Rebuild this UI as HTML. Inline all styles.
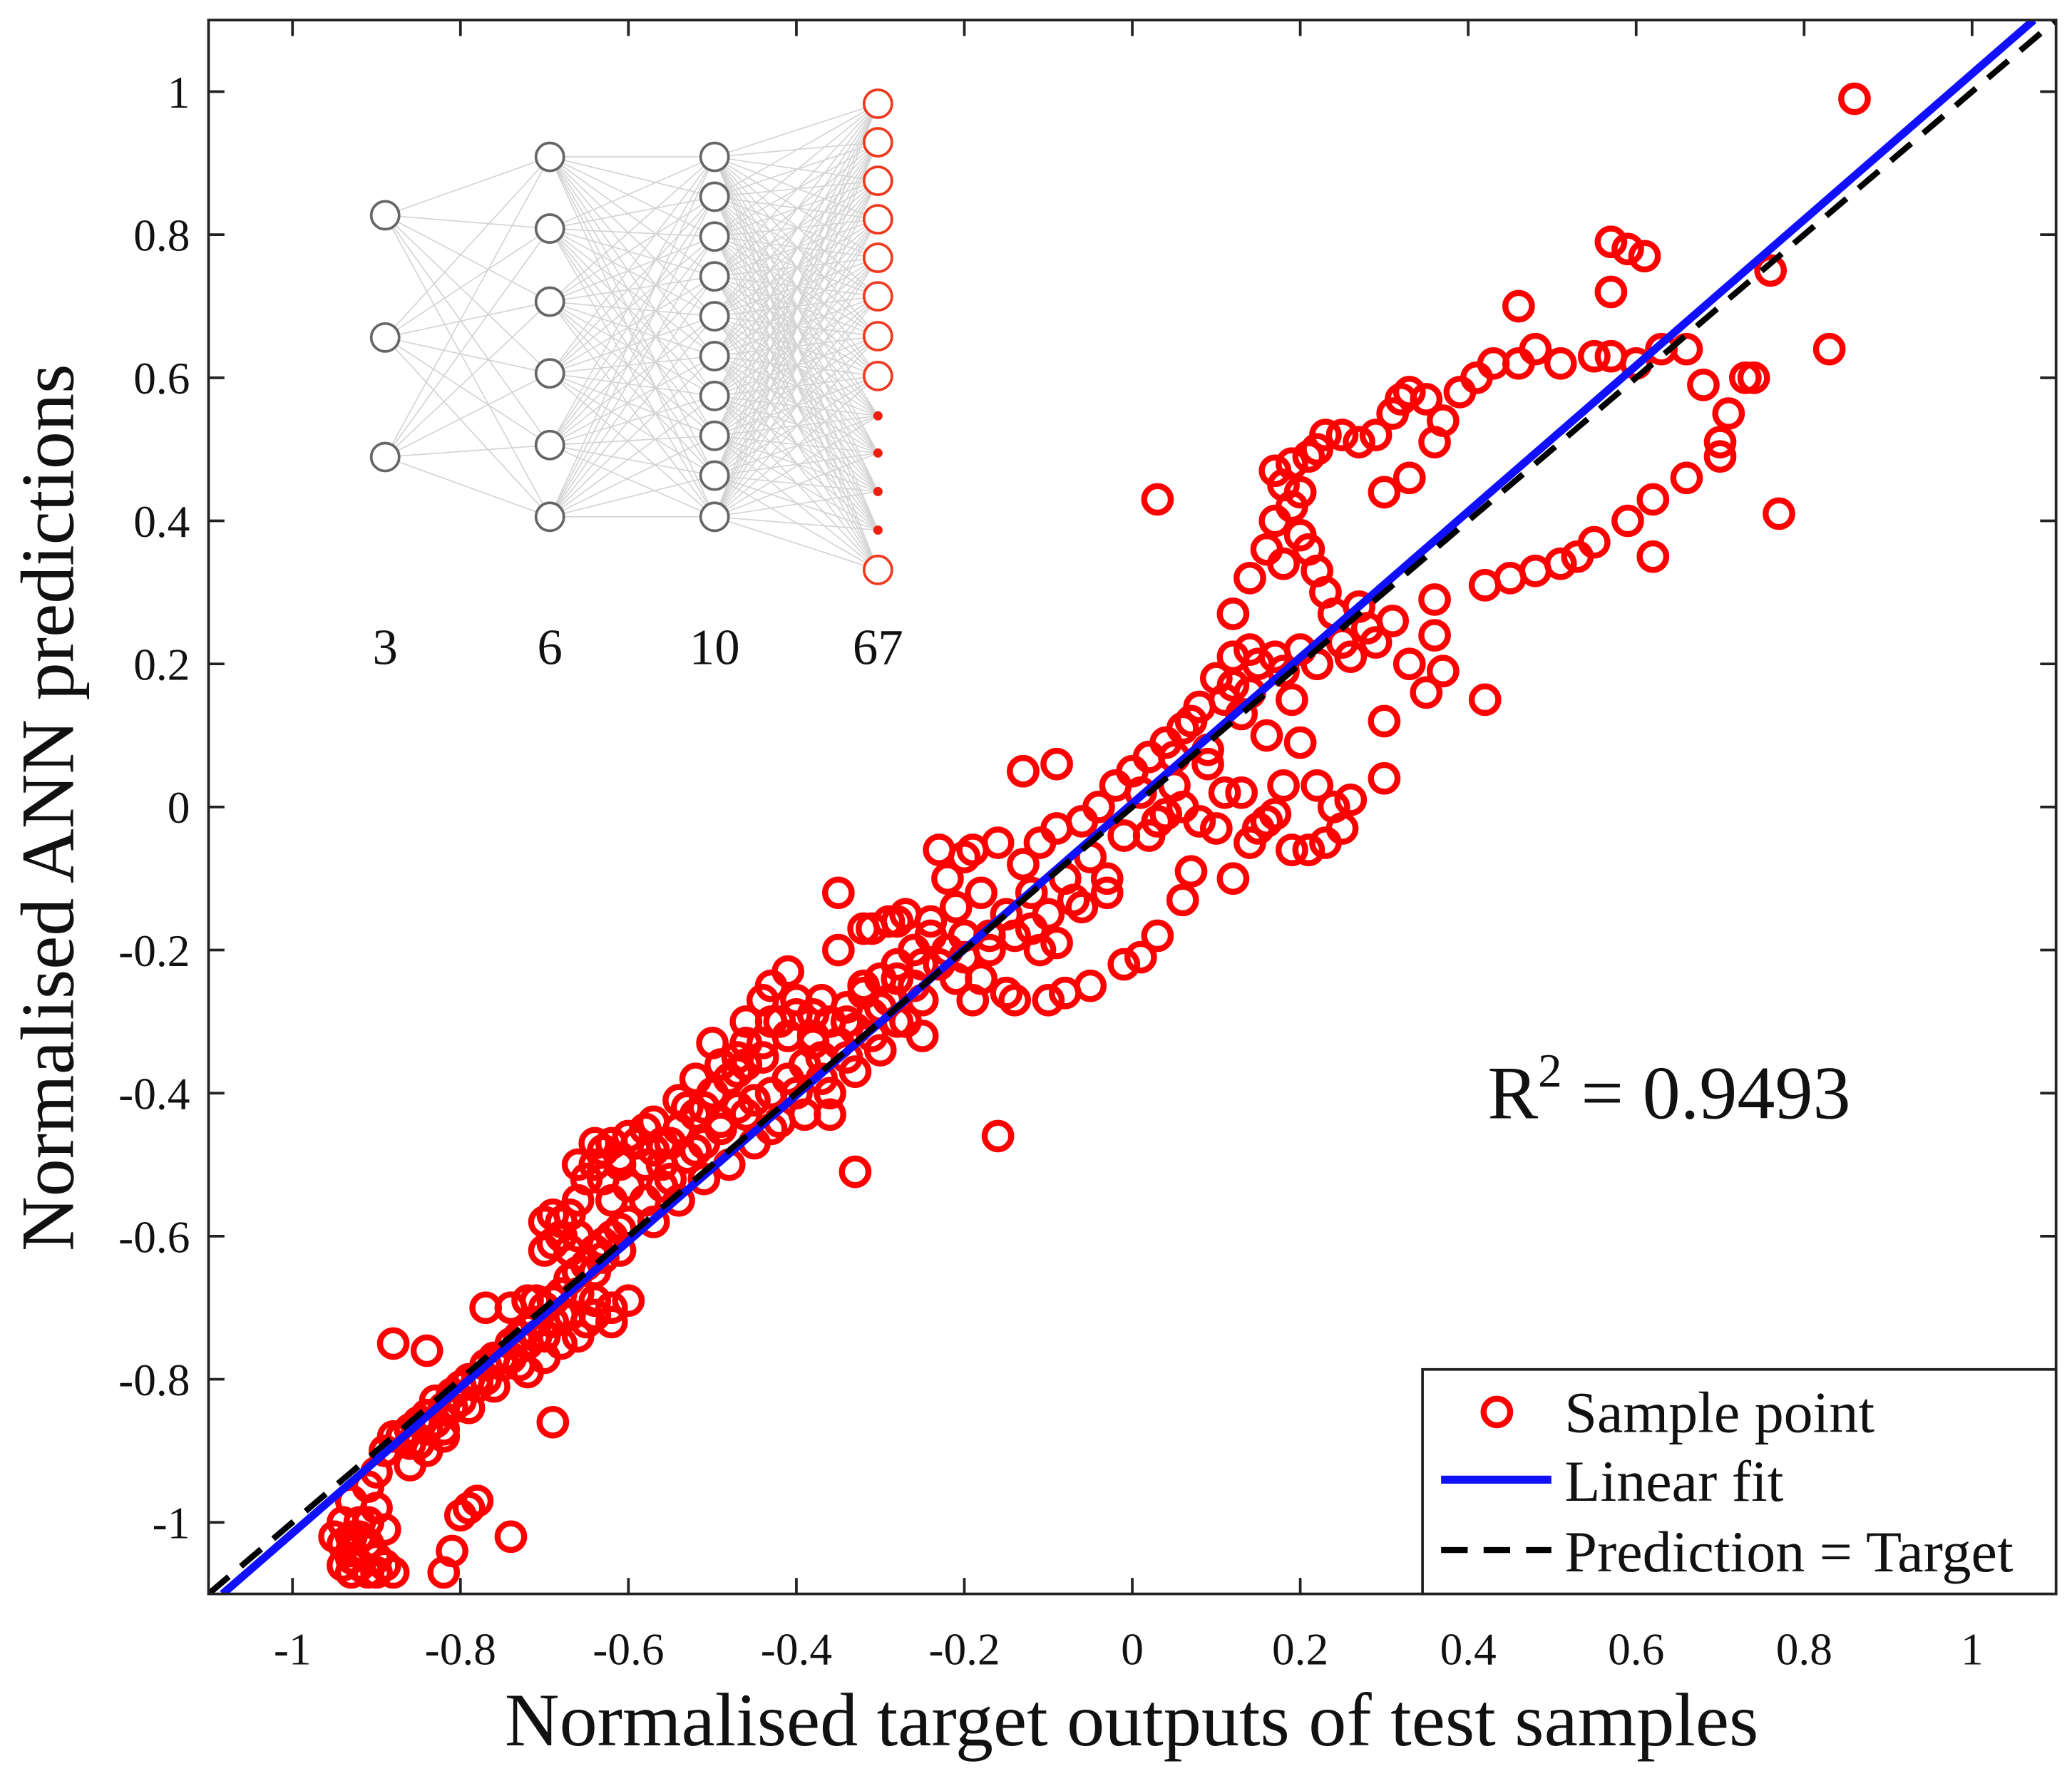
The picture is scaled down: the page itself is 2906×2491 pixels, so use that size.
<!DOCTYPE html>
<html><head><meta charset="utf-8"><style>
html,body{margin:0;padding:0;background:#fff}
svg{display:block}
text{font-family:"Liberation Serif","DejaVu Serif",serif;fill:#111}
</style></head><body>
<svg id="chart" width="2906" height="2491" viewBox="0 0 1560 1337" xmlns="http://www.w3.org/2000/svg">
<rect x="0" y="0" width="1560" height="1337" fill="#fff"/>
<g id="inset"></g>
<g id="points"></g>
<g id="lines"></g>
<g id="axes"></g>
<text x="1120" y="842" font-size="57">R<tspan dy="-24" font-size="36">2</tspan><tspan dy="24"> = 0.9493</tspan></text>
<text x="852" y="1314" font-size="57" text-anchor="middle">Normalised target outputs of test samples</text>
<text transform="translate(55,608) rotate(-90)" font-size="57" text-anchor="middle">Normalised ANN predictions</text>
<g>
<rect x="1071" y="1031" width="477" height="169" fill="#fff" stroke="#222" stroke-width="2"/>
<circle cx="1127" cy="1063" r="10" fill="none" stroke="#f00" stroke-width="4.5"/>
<text x="1178" y="1078" font-size="44">Sample point</text>
<line x1="1085" y1="1114" x2="1168" y2="1114" stroke="#1010ff" stroke-width="6"/>
<text x="1178" y="1130" font-size="44">Linear fit</text>
<line x1="1085" y1="1167" x2="1168" y2="1167" stroke="#000" stroke-width="4.5" stroke-dasharray="20,12"/>
<text x="1178" y="1183" font-size="44">Prediction = Target</text>
</g>
</svg>
<script>
const xTicks = [-1,-0.8,-0.6,-0.4,-0.2,0,0.2,0.4,0.6,0.8,1];
const xTickLabels = ["-1","-0.8","-0.6","-0.4","-0.2","0","0.2","0.4","0.6","0.8","1"];
const yTicks = [-1,-0.8,-0.6,-0.4,-0.2,0,0.2,0.4,0.6,0.8,1];
const yTickLabels = ["-1","-0.8","-0.6","-0.4","-0.2","0","0.2","0.4","0.6","0.8","1"];
const fitSlope = 1.02;
const fitIntercept = 0.005;
const targets = [
-0.94,-0.93,-0.92,-0.90,-0.89,-0.88,-0.92,-0.93,-0.91,-0.90,-0.89,-0.88,-0.89,-0.91,-0.82,-0.81,-0.79,-0.78,-0.80,-0.74,-0.88,-0.84,-0.69,-0.94,-0.93,
-0.87,-0.86,-0.85,-0.84,-0.83,-0.82,-0.81,-0.80,-0.79,-0.78,-0.77,-0.76,-0.75,-0.74,-0.73,-0.72,-0.71,-0.70,-0.69,-0.68,-0.67,-0.66,-0.65,-0.64,-0.63,-0.62,-0.61,-0.60,
-0.85,-0.82,-0.79,-0.76,-0.73,-0.70,-0.67,-0.64,-0.62,-0.60,-0.77,-0.74,-0.71,-0.68,-0.65,
-0.68,-0.67,-0.66,-0.65,-0.63,-0.62,-0.64,-0.66,-0.60,-0.61,-0.59,-0.58,-0.57,-0.69,-0.70,-0.74,-0.72,
-0.58,-0.56,-0.55,-0.54,-0.53,-0.52,-0.51,-0.50,-0.49,-0.48,-0.47,-0.46,-0.45,-0.44,-0.43,-0.42,-0.41,-0.40,-0.39,-0.38,-0.37,-0.36,-0.35,-0.34,-0.33,-0.32,-0.31,-0.30,
-0.57,-0.54,-0.51,-0.48,-0.45,-0.42,-0.39,-0.36,-0.33,-0.30,-0.50,-0.46,-0.43,-0.41,-0.38,-0.35,-0.32,-0.29,-0.56,-0.53,-0.44,-0.47,
-0.35,-0.33,-0.16,-0.36,-0.31,-0.28,
-0.29,-0.28,-0.27,-0.26,-0.25,-0.24,-0.23,-0.22,-0.21,-0.20,-0.19,-0.18,-0.17,-0.16,-0.15,-0.14,-0.13,-0.12,-0.11,-0.10,-0.09,-0.08,-0.07,-0.06,-0.05,-0.04,-0.03,-0.02,-0.01,0.00,
-0.27,-0.24,-0.21,-0.18,-0.15,-0.12,-0.09,-0.06,-0.03,-0.20,-0.17,-0.14,-0.11,-0.10,-0.08,-0.05,-0.01,0.01,0.03,0.06,-0.13,0.05,-0.19,-0.23,
0.01,0.02,0.03,0.04,0.05,0.06,0.07,0.08,0.09,0.10,0.11,0.12,0.13,0.14,0.15,0.16,0.17,0.18,0.19,0.20,0.08,0.10,0.12,0.14,0.16,0.18,0.20,0.22,0.24,0.26,0.09,0.11,0.13,0.15,0.17,0.19,0.21,0.23,0.25,0.02,0.04,0.06,0.07,
0.12,0.14,0.16,0.17,0.17,0.18,0.19,0.19,0.20,0.21,0.22,0.23,0.25,0.27,0.29,0.31,0.32,0.33,0.35,0.37,0.39,0.41,0.43,0.46,0.48,0.51,0.55,0.57,0.60,0.63,0.66,0.36,0.33,0.30,0.20,0.21,0.22,0.18,0.14,0.12,0.23,
0.57,0.59,0.61,0.46,0.57,0.68,0.70,0.70,0.71,0.73,0.74,0.76,0.83,0.77,0.86,0.62,0.66,0.62,0.59,0.55,0.51,0.48,0.42,0.45,0.53,0.03,
0.30,0.30,0.33,0.35,0.37,0.36,0.36,0.42,0.31,0.28,0.25,0.22,0.24,0.26,0.27,0.29,-0.13,-0.09,
-0.95,-0.94,-0.93,-0.92,-0.91,-0.90,-0.93,-0.91,-0.90,-0.86,-0.84,-0.83,-0.81,-0.80,-0.78,-0.77,-0.75,-0.74,-0.72,-0.71,-0.69,-0.68,-0.66,-0.64,-0.63,-0.61,
-0.70,-0.69,-0.68,-0.67,-0.66,-0.64,-0.63,-0.62,-0.61,-0.60,-0.58,-0.57,-0.56,-0.55,-0.54,-0.52,-0.51,-0.49,-0.47,-0.46,-0.44,-0.43,-0.41,-0.40,-0.38,-0.37,-0.34,-0.32,-0.30,-0.28,-0.26,-0.25,-0.22,-0.20,
-0.52,-0.49,-0.46,-0.43,-0.40,-0.37,-0.34,-0.31,-0.28,-0.25,-0.72,-0.70,-0.66,-0.64,-0.62,-0.86,-0.84,-0.82
];
const predictions = [
-1.03,-1.05,-1.06,-1.07,-1.06,-1.07,-1.00,-0.97,-0.95,-0.93,-0.90,-0.88,-1.01,-1.03,-1.07,-1.04,-0.98,-0.97,-0.99,-1.02,-0.75,-0.76,-0.86,-1.00,-1.02,
-0.88,-0.87,-0.86,-0.85,-0.83,-0.84,-0.82,-0.81,-0.80,-0.80,-0.78,-0.77,-0.77,-0.75,-0.74,-0.73,-0.72,-0.70,-0.69,-0.68,-0.66,-0.65,-0.64,-0.62,-0.61,-0.60,-0.59,-0.58,
-0.89,-0.87,-0.84,-0.81,-0.78,-0.74,-0.71,-0.69,-0.70,-0.69,-0.70,-0.70,-0.69,-0.75,-0.72,
-0.58,-0.57,-0.55,-0.52,-0.48,-0.47,-0.50,-0.60,-0.46,-0.49,-0.47,-0.45,-0.44,-0.61,-0.62,-0.70,-0.69,
-0.55,-0.50,-0.52,-0.45,-0.49,-0.43,-0.47,-0.40,-0.45,-0.38,-0.42,-0.36,-0.41,-0.33,-0.40,-0.30,-0.38,-0.27,-0.36,-0.29,-0.35,-0.30,-0.33,-0.28,-0.31,-0.25,-0.29,-0.24,
-0.58,-0.55,-0.52,-0.50,-0.47,-0.44,-0.43,-0.40,-0.37,-0.34,-0.33,-0.30,-0.25,-0.23,-0.32,-0.20,-0.17,-0.16,-0.47,-0.42,-0.27,-0.35,
-0.12,-0.51,-0.46,-0.43,-0.17,-0.16,
-0.27,-0.22,-0.30,-0.20,-0.32,-0.18,-0.22,-0.10,-0.24,-0.07,-0.27,-0.12,-0.20,-0.05,-0.15,-0.18,-0.08,-0.12,-0.05,-0.15,-0.03,-0.10,-0.13,-0.02,-0.07,0.00,-0.10,0.03,-0.04,0.05,
-0.15,-0.16,-0.14,-0.24,-0.26,-0.17,-0.19,-0.14,-0.12,-0.21,-0.18,-0.27,-0.20,-0.27,-0.26,-0.25,-0.22,-0.21,-0.18,-0.13,0.05,0.07,-0.06,-0.06,
0.02,0.07,-0.02,0.09,0.03,0.11,0.12,0.14,0.08,0.18,0.15,0.17,0.13,0.16,0.20,0.10,0.21,0.19,0.15,0.22,-0.02,-0.03,-0.10,-0.05,-0.02,0.03,0.09,0.03,0.00,0.01,0.06,0.02,0.02,-0.03,-0.01,-0.06,-0.06,-0.05,-0.03,-0.04,-0.01,0.00,-0.09,
0.27,0.32,0.36,0.40,0.47,0.45,0.42,0.48,0.44,0.49,0.50,0.52,0.52,0.51,0.52,0.55,0.57,0.58,0.57,0.54,0.58,0.60,0.62,0.62,0.64,0.62,0.63,0.63,0.62,0.64,0.64,0.51,0.46,0.44,0.38,0.36,0.33,0.34,0.22,0.21,0.30,
0.79,0.78,0.77,0.70,0.72,0.59,0.51,0.49,0.55,0.60,0.60,0.75,0.64,0.41,0.99,0.35,0.46,0.43,0.40,0.37,0.34,0.33,0.31,0.32,0.35,0.43,
0.04,0.12,0.20,0.16,0.19,0.24,0.29,0.15,0.26,0.25,0.23,0.20,0.27,0.21,0.28,0.23,0.05,0.06,
-1.02,-1.06,-1.04,-1.02,-1.00,-0.98,-1.07,-1.07,-1.05,-0.89,-0.87,-0.86,-0.84,-0.83,-0.81,-0.80,-0.78,-0.77,-0.75,-0.74,-0.72,-0.71,-0.68,-0.65,-0.63,-0.62,
-0.58,-0.57,-0.60,-0.62,-0.50,-0.47,-0.52,-0.55,-0.50,-0.53,-0.50,-0.48,-0.53,-0.47,-0.41,-0.38,-0.42,-0.36,-0.37,-0.33,-0.35,-0.30,-0.32,-0.29,-0.33,-0.27,-0.30,-0.26,-0.28,-0.24,-0.25,-0.22,-0.20,-0.18,
-0.48,-0.44,-0.43,-0.45,-0.40,-0.38,-0.35,-0.32,-0.30,-0.27,-0.79,-0.77,-0.74,-0.71,-0.72,-0.92,-0.90,-0.88
];
const layerSizes = [3,6,10,67];
const layerLabels = ["3","6","10","67"];

const NS = "http://www.w3.org/2000/svg";
const X0 = 157, X1 = 1548, Y0 = 15, Y1 = 1200;
const xMin = -1.1, xMax = 1.1, yMin = -1.1, yMax = 1.1;
function sx(v){ return X0 + (v - xMin) / (xMax - xMin) * (X1 - X0); }
function sy(v){ return Y1 - (v - yMin) / (yMax - yMin) * (Y1 - Y0); }
function mk(tag, attrs, parent){ const e = document.createElementNS(NS, tag); for (const k in attrs) e.setAttribute(k, attrs[k]); parent.appendChild(e); return e; }

// inset network
const inset = document.getElementById('inset');
const layerX = [290, 414, 538, 661];
const layerNodes = [
  [162, 254, 344],
  [118, 172, 227, 281, 335, 389],
  [118, 148, 178, 208, 238, 268, 298, 328, 358, 389],
  [78, 107, 136, 165, 194, 223, 253, 283, 313, 341, 370, 399, 429]
];
for (let l = 0; l < 3; l++) {
  for (const a of layerNodes[l]) for (const b of layerNodes[l+1]) {
    const ln = mk('line', {x1: layerX[l], y1: a, x2: layerX[l+1], y2: b, stroke: '#d4d4d4', 'stroke-width': 0.9}, inset);
    
    
  }
}
for (let l = 0; l < 4; l++) {
  layerNodes[l].forEach((y, i) => {
    const isDot = l === 3 && i >= 8 && i <= 11;
    const c = mk('circle', isDot ? {cx: layerX[l], cy: y, r: 3.5, fill: '#f02010'} :
      {cx: layerX[l], cy: y, r: 10.5, fill: '#fff', stroke: l === 3 ? '#f03a20' : '#666', 'stroke-width': 2}, inset);
    
    
  });
  const t = mk('text', {x: layerX[l], y: 500, 'font-size': 38, 'text-anchor': 'middle'}, inset);
  t.textContent = layerLabels[l];
  
  
}

// points
const pg = document.getElementById('points');
for (let i = 0; i < targets.length; i++) {
  const c = mk('circle', {cx: sx(targets[i]), cy: sy(predictions[i]), r: 10, fill: 'none', stroke: '#ff0000', 'stroke-width': 4.5}, pg);
  
  
}

// lines
const lg = document.getElementById('lines');
const clip = mk('clipPath', {id: 'plotclip'}, lg);
mk('rect', {x: X0, y: Y0, width: X1 - X0, height: Y1 - Y0}, clip);
const fx1 = (yMin - fitIntercept) / fitSlope, fx2 = (yMax - fitIntercept) / fitSlope;
const fit = mk('line', {x1: sx(fx1), y1: sy(yMin), x2: sx(fx2), y2: sy(yMax), stroke: '#1010ff', 'stroke-width': 6, 'clip-path': 'url(#plotclip)'}, lg);


const idl = mk('line', {x1: sx(xMin), y1: sy(xMin), x2: sx(xMax), y2: sy(xMax), stroke: '#000', 'stroke-width': 4.5, 'stroke-dasharray': '20,12', 'clip-path': 'url(#plotclip)'}, lg);



// axes
const ag = document.getElementById('axes');
const box = mk('rect', {x: X0, y: Y0, width: X1 - X0, height: Y1 - Y0, fill: 'none', stroke: '#222', 'stroke-width': 2}, ag);


xTicks.forEach((v, i) => {
  const x = sx(v);
  const t1 = mk('line', {x1: x, y1: Y1, x2: x, y2: Y1 - 12, stroke: '#222', 'stroke-width': 2}, ag);
  
  
  const t2 = mk('line', {x1: x, y1: Y0, x2: x, y2: Y0 + 12, stroke: '#222', 'stroke-width': 2}, ag);
  
  
  const lb = mk('text', {x: x, y: 1253, 'font-size': 34, 'text-anchor': 'middle'}, ag);
  lb.textContent = xTickLabels[i];
  
  
});
yTicks.forEach((v, i) => {
  const y = sy(v);
  const t1 = mk('line', {x1: X0, y1: y, x2: X0 + 12, y2: y, stroke: '#222', 'stroke-width': 2}, ag);
  
  
  const t2 = mk('line', {x1: X1, y1: y, x2: X1 - 12, y2: y, stroke: '#222', 'stroke-width': 2}, ag);
  
  
  const lb = mk('text', {x: 143, y: y + 12, 'font-size': 34, 'text-anchor': 'end'}, ag);
  lb.textContent = yTickLabels[i];
  
  
});
</script>
</body></html>
